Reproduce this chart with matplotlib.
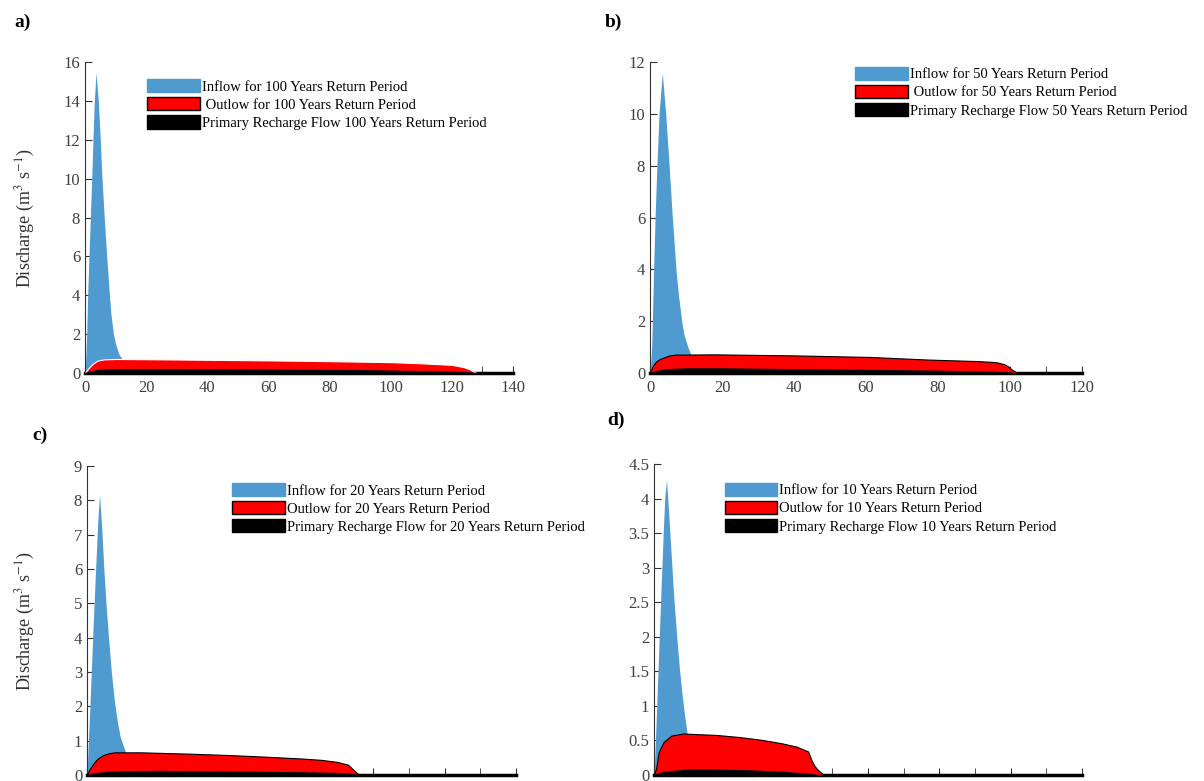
import numpy as np
import matplotlib
matplotlib.use("Agg")
import matplotlib.pyplot as plt
from matplotlib.patches import Patch
from matplotlib.ticker import MultipleLocator, FuncFormatter

plt.rcParams['font.family'] = ['Liberation Serif', 'DejaVu Serif']
plt.rcParams['mathtext.fontset'] = 'stix'

# ---- data (time in h, discharge in m3/s) ----
inflow_a_t = [0, 0.3, 0.55, 0.87, 1.3, 1.75, 2.2, 2.6, 3.05, 3.6, 4.36, 5.0, 5.56, 6.3, 7.1,
              8.0, 8.5, 9.3, 10.0, 11.0, 12.0, 14, 20, 30]
inflow_a_q = [0, 1, 2, 4, 6, 8, 10, 12, 14, 15.44, 14, 12, 10, 8, 6,
              4, 3, 2, 1.5, 1, 0.75, 0.5, 0.2, 0]
outflow_a_t = [0, 0.5, 1.0, 1.5, 2.5, 3.9, 5.0, 6.2, 10, 20, 40, 60, 80, 100, 110, 120, 124, 126, 127.5, 128]
outflow_a_q = [0, 0.12, 0.22, 0.3, 0.47, 0.62, 0.67, 0.7, 0.72, 0.71, 0.68, 0.65, 0.61, 0.56, 0.5, 0.42,
               0.3, 0.18, 0.05, 0]
recharge_a_t = [0, 2, 5, 10, 30, 60, 90, 110, 120, 126, 128]
recharge_a_q = [0, 0.1, 0.17, 0.2, 0.2, 0.18, 0.15, 0.1, 0.07, 0.03, 0]

inflow_b_t = [0, 0.46, 0.65, 1.0, 1.4, 1.9, 2.5, 3.4, 4.35, 5.3, 6.2, 7.2, 7.9, 8.8, 9.4,
              10.5, 11.4, 14, 20, 30]
inflow_b_q = [0, 1, 2, 4, 6, 8, 10, 11.57, 10, 8, 6, 4, 3, 2, 1.5,
              1, 0.7, 0.45, 0.2, 0]
outflow_b_t = [0, 0.5, 1.0, 1.6, 2.6, 3.8, 5.2, 7, 18, 40, 61, 77, 91, 96, 98.4, 99.5, 100.5, 101.6, 102]
outflow_b_q = [0, 0.2, 0.32, 0.43, 0.53, 0.6, 0.67, 0.71, 0.72, 0.68, 0.62, 0.52, 0.46, 0.42, 0.34, 0.25,
               0.13, 0.04, 0]
recharge_b_t = [0, 2, 5, 10, 20, 40, 60, 80, 95, 100, 101]
recharge_b_q = [0, 0.09, 0.15, 0.18, 0.18, 0.15, 0.12, 0.09, 0.05, 0.02, 0]

inflow_c_t = [0, 0.3, 0.8, 1.3, 1.8, 2.4, 3.0, 3.5, 4.1, 4.7, 5.3, 6.0, 6.8, 7.6, 8.4,
              9.3, 10.7, 12, 16, 25]
inflow_c_q = [0, 0.8, 2, 3.3, 4.6, 6.0, 7.4, 8.17, 7.2, 6.0, 5.0, 4.0, 3.0, 2.2, 1.6,
              1.1, 0.68, 0.45, 0.2, 0]
outflow_c_t = [0, 0.6, 1.8, 3, 4.5, 6, 7.7, 15, 29, 40, 50.6, 60, 65.6, 70, 73, 74.5, 75.8, 76.5]
outflow_c_q = [0, 0.15, 0.34, 0.48, 0.58, 0.63, 0.66, 0.66, 0.62, 0.58, 0.53, 0.48, 0.44, 0.38, 0.3,
               0.15, 0.03, 0]
recharge_c_t = [0, 2, 5, 10, 20, 40, 60, 70, 74, 76]
recharge_c_q = [0, 0.05, 0.09, 0.11, 0.12, 0.1, 0.08, 0.06, 0.03, 0]

inflow_d_t = [0, 0.4, 0.9, 1.4, 1.9, 2.5, 3.0, 3.5, 4.1, 4.8, 5.5, 6.3, 7.1, 7.9, 8.6,
              9.3, 11, 14, 20]
inflow_d_q = [0, 0.5, 1.2, 1.9, 2.6, 3.4, 4.0, 4.27, 3.8, 3.2, 2.6, 2.05, 1.55, 1.15, 0.85,
              0.6, 0.4, 0.2, 0]
outflow_d_t = [0, 0.6, 1.3, 2.7, 4.9, 8.1, 17.3, 23.8, 30, 35.7, 40, 43.2, 44.1, 45, 46, 47.6]
outflow_d_q = [0, 0.1, 0.33, 0.48, 0.57, 0.6, 0.58, 0.55, 0.51, 0.46, 0.41, 0.34, 0.22, 0.13, 0.07, 0]
recharge_d_t = [0, 1, 3, 10, 15, 25, 35, 43, 46]
recharge_d_q = [0, 0.02, 0.05, 0.08, 0.08, 0.07, 0.05, 0.02, 0]

labels_a = ['Inflow for 100 Years Return Period', ' Outlow for 100 Years Return Period',
            'Primary Recharge Flow 100 Years Return Period']
labels_b = ['Inflow for 50 Years Return Period', ' Outlow for 50 Years Return Period',
            'Primary Recharge Flow 50 Years Return Period']
labels_c = ['Inflow for 20 Years Return Period', 'Outlow for 20 Years Return Period',
            'Primary Recharge Flow for 20 Years Return Period']
labels_d = ['Inflow for 10 Years Return Period', 'Outlow for 10 Years Return Period',
            'Primary Recharge Flow 10 Years Return Period']

blue = '#4f9bd0'
red = '#ff0000'

fig = plt.figure(figsize=(12.04, 7.81), dpi=100)

panels = [
    # rect, xmax, ymax, ystep, data, labels, letter pos, legend anchor, red edge, show x labels
    ([0.0706, 0.5224, 0.3554, 0.3982], 140, 16, 2,
     (inflow_a_t, inflow_a_q, outflow_a_t, outflow_a_q, recharge_a_t, recharge_a_q),
     labels_a, 'a)', (0.012, 0.972), (0.145, 0.945), 'white', True),
    ([0.5399, 0.5224, 0.3588, 0.3982], 120, 12, 2,
     (inflow_b_t, inflow_b_q, outflow_b_t, outflow_b_q, recharge_b_t, recharge_b_q),
     labels_b, 'b)', (0.502, 0.972), (0.475, 0.985), 'black', True),
    ([0.0723, 0.0077, 0.3563, 0.3956], 120, 9, 1,
     (inflow_c_t, inflow_c_q, outflow_c_t, outflow_c_q, recharge_c_t, recharge_c_q),
     labels_c, 'c)', (0.027, 0.443), (0.338, 0.945), 'black', False),
    ([0.5432, 0.0077, 0.3555, 0.3982], 120, 4.5, 0.5,
     (inflow_d_t, inflow_d_q, outflow_d_t, outflow_d_q, recharge_d_t, recharge_d_q),
     labels_d, 'd)', (0.504, 0.462), (0.165, 0.94), 'black', False),
]

for rect, xmax, ymax, ystep, data, labels, letter, lpos, legpos, redge, showx in panels:
    it, iq, ot, oq, rt, rq = data
    ax = fig.add_axes(rect)
    ax.fill_between(it, iq, 0, color=blue, linewidth=0, zorder=2)
    ax.fill_between(ot, oq, 0, facecolor=red, edgecolor=redge, linewidth=0.8, zorder=3)
    ax.fill_between(rt, rq, 0, facecolor='black', edgecolor='black', linewidth=0.8, zorder=4)

    ax.set_xlim(0, xmax)
    ax.set_ylim(0, ymax)
    ax.xaxis.set_major_locator(MultipleLocator(20))
    ax.xaxis.set_minor_locator(MultipleLocator(10))
    ax.yaxis.set_major_locator(MultipleLocator(ystep))
    ax.yaxis.set_major_formatter(FuncFormatter(lambda v, p: '%g' % v))
    ax.spines['top'].set_visible(False)
    ax.spines['right'].set_visible(False)
    ax.spines['left'].set_color('#333333')
    ax.spines['bottom'].set_linewidth(2.5)
    ax.tick_params(which='both', direction='in', length=5, colors='#333333',
                   labelsize=12, labelcolor='#404040')
    ax.tick_params(axis='x', which='major', pad=5, labelbottom=showx)

    handles = [Patch(facecolor=blue, edgecolor=blue),
               Patch(facecolor=red, edgecolor='black'),
               Patch(facecolor='black', edgecolor='black')]
    ax.legend(handles, labels, loc='upper left', bbox_to_anchor=legpos, frameon=False,
              fontsize=10.5, handlelength=3.6, handleheight=1.0, handletextpad=0.15,
              labelspacing=0.25, borderpad=0, borderaxespad=0)

    fig.text(lpos[0], lpos[1], letter, fontsize=14, fontweight='bold', ha='left', va='center')

fig.text(0.021, 0.72, 'Discharge (m$^3$ s$^{-1}$)', rotation=90, fontsize=13,
         ha='center', va='center', color='#333333')
fig.text(0.021, 0.205, 'Discharge (m$^3$ s$^{-1}$)', rotation=90, fontsize=13,
         ha='center', va='center', color='#333333')

fig.savefig('out.png', dpi=100)
